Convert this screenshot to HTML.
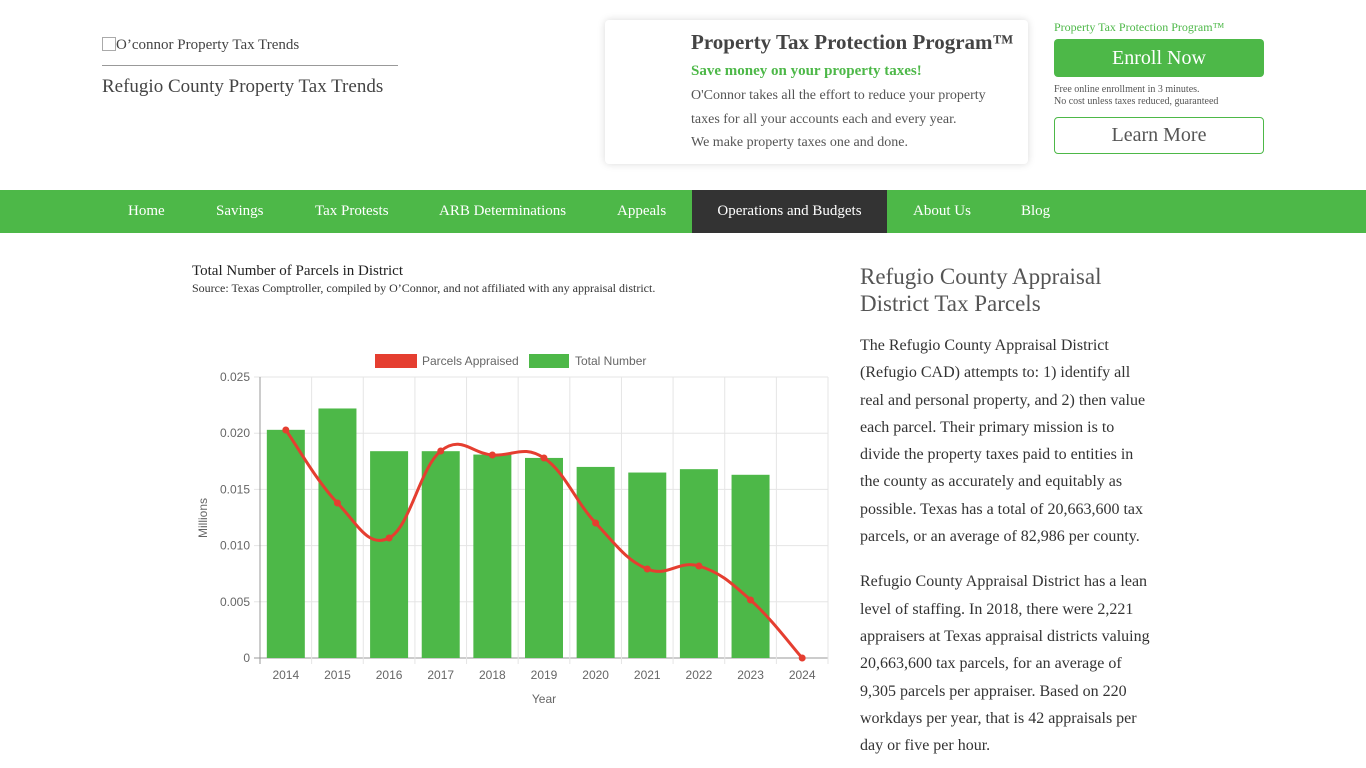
<!DOCTYPE html>
<html><head><meta charset="utf-8"><style>
body{margin:0;width:1366px;height:768px;overflow:hidden;background:#fff;font-family:"Liberation Serif",serif;color:#444;position:relative}
.a{position:absolute;white-space:nowrap}
.nav{position:absolute;left:0;top:190px;width:1366px;height:43px;background:#4db848}
.nav span{position:absolute;top:0;line-height:43px;color:#fff;font-size:15px}
p{margin:0}
</style></head><body>
<div class="a" style="left:102px;top:37px;font-size:15px;color:#444"><span style="display:inline-block;width:14px;height:14px;border:1px solid #aaa;vertical-align:-2px;box-sizing:border-box"></span>O’connor Property Tax Trends</div>
<div class="a" style="left:102px;top:65px;width:296px;border-top:1px solid #999"></div>
<div class="a" style="left:102px;top:76px;font-size:19px;color:#444">Refugio County Property Tax Trends</div>
<div class="a" style="left:605px;top:20px;width:423px;height:144px;background:#fff;box-shadow:0 0 8px rgba(0,0,0,.15);border-radius:4px"></div>
<div class="a" style="left:691px;top:30px;font-size:21px;font-weight:bold;color:#444">Property Tax Protection Program™</div>
<div class="a" style="left:691px;top:63px;font-size:15px;font-weight:bold;color:#4db848">Save money on your property taxes!</div>
<div class="a" style="left:691px;top:84px;font-size:14px;line-height:23.5px;color:#555">O'Connor takes all the effort to reduce your property<br>taxes for all your accounts each and every year.<br>We make property taxes one and done.</div>
<div class="a" style="left:1054px;top:20px;font-size:12px;color:#4db848">Property Tax Protection Program™</div>
<div class="a" style="left:1054px;top:39px;width:210px;height:38px;background:#4db848;border-radius:4px;color:#fff;font-size:20px;text-align:center;line-height:38px">Enroll Now</div>
<div class="a" style="left:1054px;top:84px;font-size:10px;line-height:12px;color:#555">Free online enrollment in 3 minutes.<br>No cost unless taxes reduced, guaranteed</div>
<div class="a" style="left:1054px;top:117px;width:208px;height:35px;border:1px solid #4db848;border-radius:4px;color:#555;font-size:20px;text-align:center;line-height:35px">Learn More</div>
<div class="nav">
<span style="left:128px">Home</span><span style="left:216px">Savings</span><span style="left:315px">Tax Protests</span><span style="left:439px">ARB Determinations</span><span style="left:617px">Appeals</span>
<span style="left:692px;width:195px;background:#333;text-align:center">Operations and Budgets</span>
<span style="left:913px">About Us</span><span style="left:1021px">Blog</span></div>
<div class="a" style="left:192px;top:263px;font-size:15px;color:#222">Total Number of Parcels in District</div>
<div class="a" style="left:192px;top:281px;font-size:12px;color:#333">Source: Texas Comptroller, compiled by O’Connor, and not affiliated with any appraisal district.</div>
<div class="a" style="left:860px;top:263px;font-size:23px;line-height:27px;color:#555">Refugio County Appraisal<br>District Tax Parcels</div>
<div class="a" style="left:860px;top:332px;width:295px;white-space:normal;font-size:16px;line-height:27.3px;color:#333">
<p>The Refugio County Appraisal District (Refugio CAD) attempts to: 1) identify all real and personal property, and 2) then value each parcel. Their primary mission is to divide the property taxes paid to entities in the county as accurately and equitably as possible. Texas has a total of 20,663,600 tax parcels, or an average of 82,986 per county.</p>
<p style="margin-top:18px">Refugio County Appraisal District has a lean level of staffing. In 2018, there were 2,221 appraisers at Texas appraisal districts valuing 20,663,600 tax parcels, for an average of 9,305 parcels per appraiser. Based on 220 workdays per year, that is 42 appraisals per day or five per hour.</p></div>
<svg class="a" style="left:0;top:0" width="1366" height="768" font-family="Liberation Sans, sans-serif" font-size="12" fill="#666" id="s">
<rect x="375" y="354" width="42" height="14" fill="#e53e30"/><text x="422" y="365">Parcels Appraised</text>
<rect x="529" y="354" width="40" height="14" fill="#4db848"/><text x="575" y="365">Total Number</text>
<g id="g" stroke="#e5e5e5" stroke-width="1"></g>
<g id="b" fill="#4db848"></g>
<path id="l" fill="none" stroke="#e53e30" stroke-width="3"/>
<g id="d" fill="#e53e30"></g>
<g id="t" text-anchor="middle"></g>
<g id="y" text-anchor="end"></g>
<text x="544" y="703" text-anchor="middle">Year</text>
<text transform="translate(207,518) rotate(-90)" text-anchor="middle">Millions</text>
</svg>
<script>
var ns="http://www.w3.org/2000/svg";function e(p,t,a,tx){var n=document.createElementNS(ns,t);for(var k in a)n.setAttribute(k,a[k]);if(tx!=null)n.textContent=tx;document.getElementById(p).appendChild(n);}
var L=260,R=828,Y0=658,sc=11240,w=(R-L)/11;
for(var i=0;i<=5;i++){var y=Y0-i*0.005*sc;e('g','line',{x1:254,x2:R,y1:y,y2:y,stroke:i==0?'#999':'#e5e5e5'});e('y','text',{x:250,y:y+4},i==0?'0':(i*0.005).toFixed(3));}
for(var i=0;i<=11;i++){var x=L+i*w;e('g','line',{x1:x,x2:x,y1:377,y2:664,stroke:i==0?'#999':'#e5e5e5'});}
var bars=[.0203,.0222,.0184,.0184,.0181,.0178,.0170,.0165,.0168,.0163];
var pts=[430,503,538,451,455,458,523,569,566,600,658];
for(var i=0;i<11;i++){var cx=L+w*(i+.5);if(i<10)e('b','rect',{x:cx-19,y:Y0-bars[i]*sc,width:38,height:bars[i]*sc});e('t','text',{x:cx,y:679},2014+i);}
var P=pts.map(function(v,i){return[L+w*(i+.5),v]});var d='M'+P[0];
for(var i=0;i<10;i++){var p0=P[Math.max(i-1,0)],p1=P[i],p2=P[i+1],p3=P[Math.min(i+2,10)],k=.2;
d+=' C'+(p1[0]+(p2[0]-p0[0])*k)+','+(p1[1]+(p2[1]-p0[1])*k)+' '+(p2[0]-(p3[0]-p1[0])*k)+','+(p2[1]-(p3[1]-p1[1])*k)+' '+p2;}
document.getElementById('l').setAttribute('d',d);
P.forEach(function(p){e('d','circle',{cx:p[0],cy:p[1],r:3.5});});
</script>
</body></html>
